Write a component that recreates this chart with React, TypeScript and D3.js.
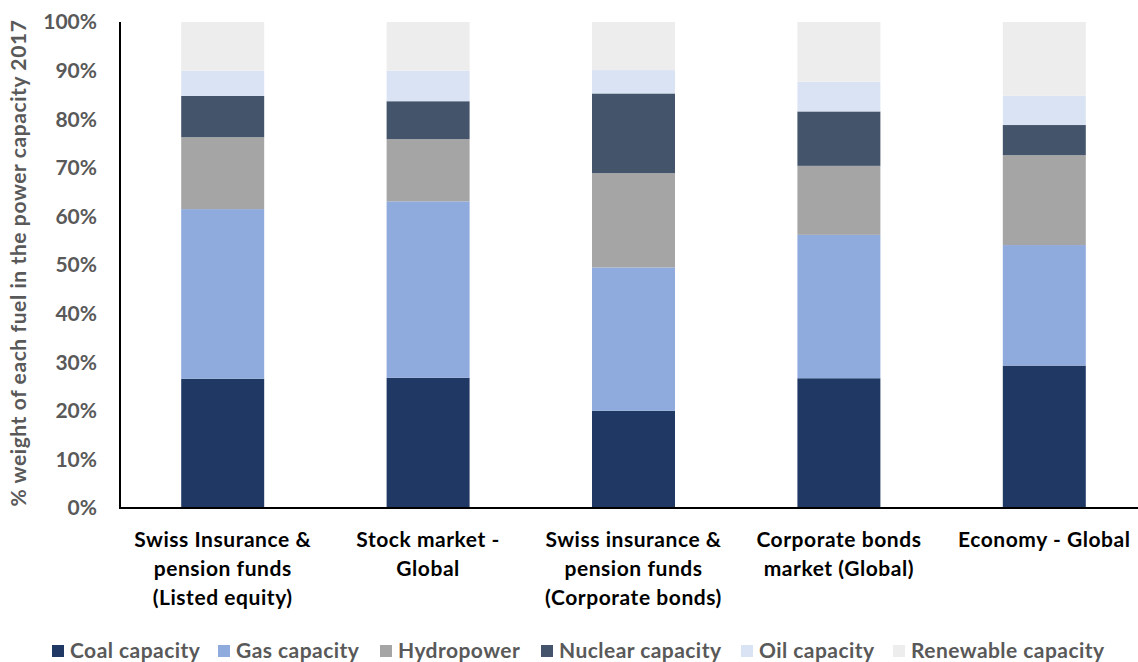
import React from "react";
import * as d3 from "d3";

const categories = [
  ["Swiss Insurance &", "pension funds", "(Listed equity)"],
  ["Stock market -", "Global"],
  ["Swiss insurance &", "pension funds", "(Corporate bonds)"],
  ["Corporate bonds", "market (Global)"],
  ["Economy - Global"],
];
const seriesNames = ["Coal capacity", "Gas capacity", "Hydropower", "Nuclear capacity", "Oil capacity", "Renewable capacity"];
const coal = [26.6, 26.8, 20.0, 26.7, 29.3];
const gas = [34.9, 36.3, 29.5, 29.5, 24.8];
const hydro = [14.8, 12.8, 19.4, 14.2, 18.5];
const nuclear = [8.5, 7.8, 16.4, 11.2, 6.2];
const oil = [5.2, 6.3, 4.8, 6.1, 6.0];
const renewable = [10.0, 10.0, 9.9, 12.3, 15.2];
const yTicks = [0, 10, 20, 30, 40, 50, 60, 70, 80, 90, 100];
const colors = ["#203864", "#8FAADC", "#A5A5A5", "#44546A", "#DAE3F3", "#EDEDED"];
const legendX = [52, 218, 380, 541, 741, 893];

const FONT = "Lato, 'Open Sans', sans-serif";

export default function App() {
  const W = 1138, H = 662;
  const left = 120, top = 22, bottom = 508;
  const idx = categories.map((_, i) => i);
  const x = d3.scaleBand<number>().domain(idx).range([left, 1147]).paddingInner(0.596).paddingOuter(0.298);
  const y = d3.scaleLinear().domain([0, 100]).range([bottom, top]);
  const rows = idx.map((i) => ({ i, v: [coal[i], gas[i], hydro[i], nuclear[i], oil[i], renewable[i]] }));
  const stack = d3.stack<any, any, number>().keys([0, 1, 2, 3, 4, 5]).value((d, k) => d.v[k]);
  const stacked = stack(rows);
  return (
    <svg width={W} height={H} style={{ position: "absolute", left: 0, top: 0, fontFamily: FONT }}>
      <rect width={W} height={H} fill="#fff" />
      {stacked.map((layer, k) => (
        <g key={k} fill={colors[k]}>
          {layer.map((d, j) => (
            <rect key={j} x={x(j)!} width={x.bandwidth()} y={y(d[1])} height={y(d[0]) - y(d[1])} />
          ))}
        </g>
      ))}
      <line x1={left} x2={left} y1={top} y2={bottom} stroke="#000" strokeWidth={2} />
      <line x1={left - 1} x2={W} y1={bottom} y2={bottom} stroke="#000" strokeWidth={2} />
      {yTicks.map((t) => (
        <text key={t} x={97} y={y(t)} dy="0.35em" textAnchor="end" fontSize={21} fontWeight="bold" fill="#595959">
          {t}%
        </text>
      ))}
      <text transform={`translate(26,${(top + bottom) / 2 - 2}) rotate(-90)`} textAnchor="middle" fontSize={21} letterSpacing={0.6} fontWeight="bold" fill="#595959">
        % weight of each fuel in the power capacity 2017
      </text>
      {categories.map((lines, i) => (
        <text key={i} x={x(i)! + x.bandwidth() / 2} textAnchor="middle" fontSize={21} letterSpacing={0.55} fontWeight="bold" fill="#000">
          {lines.map((l, j) => (
            <tspan key={j} x={x(i)! + x.bandwidth() / 2} y={547 + j * 29}>{l}</tspan>
          ))}
        </text>
      ))}
      {seriesNames.map((s, k) => (
        <g key={s} transform={`translate(${legendX[k]},651)`}>
          <rect x={0} y={-6} width={12} height={12} fill={colors[k]} />
          <text x={18} y={0} dy="0.35em" fontSize={21} letterSpacing={0.45} fontWeight="bold" fill="#595959">{s}</text>
        </g>
      ))}
    </svg>
  );
}
